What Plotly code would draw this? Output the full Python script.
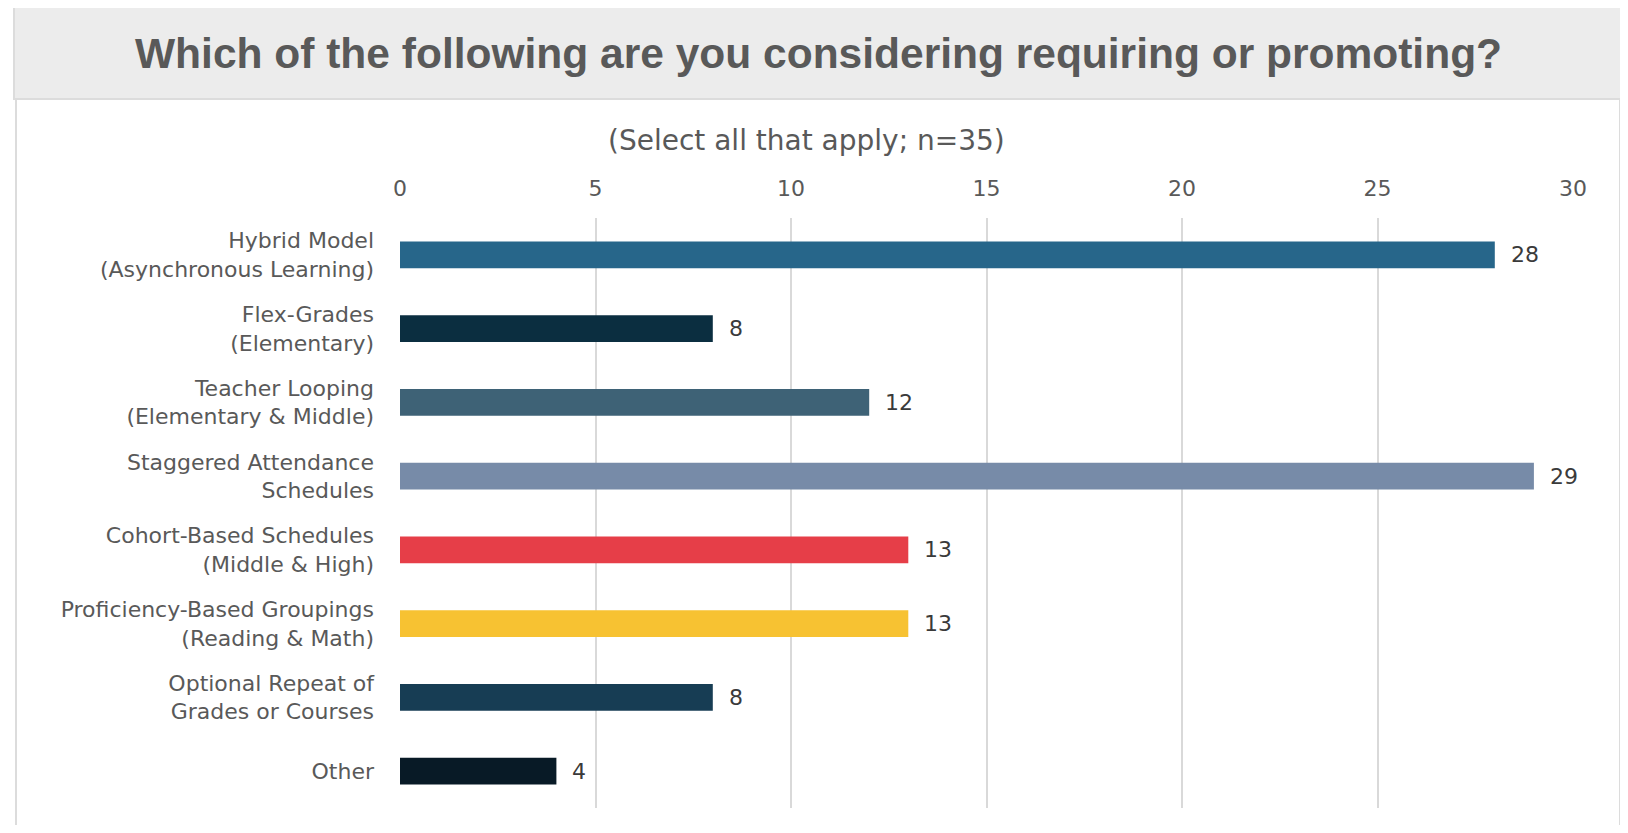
import plotly.graph_objects as go

categories = [
    "Hybrid Model<br>(Asynchronous Learning)",
    "Flex-Grades<br>(Elementary)",
    "Teacher Looping<br>(Elementary &amp; Middle)",
    "Staggered Attendance<br>Schedules",
    "Cohort-Based Schedules<br>(Middle &amp; High)",
    "Proficiency-Based Groupings<br>(Reading &amp; Math)",
    "Optional Repeat of<br>Grades or Courses",
    "Other",
]
counts = [28, 8, 12, 29, 13, 13, 8, 4]
bar_colors = ["#27668a", "#0b2e40", "#3e6276", "#778ba8",
              "#e63e48", "#f7c232", "#173d54", "#081a26"]
x_ticks = [0, 5, 10, 15, 20, 25, 30]

# page has an 8px body margin, so the figure is drawn 8px in
OFF = 8
W, H = 1612, 817
L, T = 400 - OFF, 218 - OFF
pw, ph = 1173, 590
R, B = W - L - pw, H - T - ph


def px_x(p):
    return (p - OFF - L) / pw


def px_y(p):
    return 1 - (p - OFF - T) / ph


fig = go.Figure()
fig.add_trace(go.Bar(
    x=counts,
    y=categories,
    orientation="h",
    marker=dict(color=bar_colors, line=dict(width=0)),
    width=0.366,
    hoverinfo="x+y",
))

for c, v in zip(categories, counts):
    fig.add_annotation(x=v, y=c, text=str(v), showarrow=False,
                       xanchor="left", xshift=14,
                       font=dict(family="DejaVu Sans", size=22, color="#3a3a3a"))

# title banner and white panel
fig.add_shape(type="rect", xref="paper", yref="paper",
              x0=px_x(16), x1=px_x(1620), y0=px_y(840), y1=px_y(98),
              fillcolor="white", line=dict(color="#dcdcdc", width=2), layer="below")
fig.add_shape(type="rect", xref="paper", yref="paper",
              x0=px_x(14), x1=px_x(1622), y0=px_y(99), y1=px_y(5),
              fillcolor="#ececec", line=dict(color="#dcdcdc", width=2), layer="below")

fig.add_annotation(xref="paper", yref="paper", x=px_x(818), y=px_y(53),
                   text="<b>Which of the following are you considering requiring or promoting?</b>",
                   showarrow=False, xanchor="center", yanchor="middle",
                   font=dict(family="Liberation Sans", size=42.5, color="#595959"))
fig.add_annotation(xref="paper", yref="paper", x=px_x(806), y=px_y(141),
                   text="(Select all that apply; n=35)",
                   showarrow=False, xanchor="center", yanchor="middle",
                   font=dict(family="DejaVu Sans", size=28, color="#595959"))

fig.update_layout(
    width=W, height=H,
    margin=dict(l=L, r=R, t=T, b=B),
    paper_bgcolor="white",
    plot_bgcolor="white",
    showlegend=False,
    font=dict(family="DejaVu Sans", size=22, color="#595959"),
)
fig.update_xaxes(
    range=[0, 30], side="top", tickvals=x_ticks,
    showgrid=True, gridcolor="#d9d9d9", gridwidth=2,
    zeroline=False, showline=False, ticks="",
    ticklabelstandoff=17,
    tickfont=dict(family="DejaVu Sans", size=22, color="#595959"),
)
fig.update_yaxes(
    autorange="reversed", showgrid=False, showline=False, ticks="",
    ticklabelstandoff=25,
    tickfont=dict(family="DejaVu Sans", size=22, color="#595959"),
)

fig.write_html("out.html")
